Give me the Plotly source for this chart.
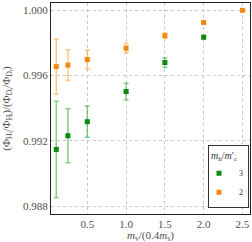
import plotly.graph_objects as go

x_orange = [0.1, 0.25, 0.5, 1.0, 1.5, 2.0, 2.5]
y_orange = [0.99655, 0.99664, 0.99698, 0.99768, 0.99845, 0.99925, 1.0000]
e_orange = [0.00169, 0.00095, 0.00057, 0.00030, 0.00016, 0.00008, 0.00004]

x_green = [0.1, 0.25, 0.5, 1.0, 1.5, 2.0]
y_green = [0.99147, 0.99231, 0.99317, 0.99502, 0.99680, 0.99835]
e_green = [0.00296, 0.00165, 0.00096, 0.00051, 0.00030, 0.00010]

x_ticks = [0.5, 1.0, 1.5, 2.0, 2.5]
y_ticks = [0.988, 0.992, 0.996, 1.000]

font = "Liberation Serif"
tcol = "#505050"

fig = go.Figure()
fig.add_trace(go.Scatter(
    x=x_green, y=y_green, mode="markers", name="3",
    marker=dict(symbol="square", size=5, color="#0a8a0a"),
    error_y=dict(type="data", array=e_green, color="rgba(60,170,60,0.6)", thickness=1.5, width=2.5),
))
fig.add_trace(go.Scatter(
    x=x_orange, y=y_orange, mode="markers", name="2",
    marker=dict(symbol="square", size=5, color="#f5890f"),
    error_y=dict(type="data", array=e_orange, color="rgba(250,170,70,0.65)", thickness=1.5, width=2.5),
))

axis_common = dict(
    showline=True, linecolor="#222", linewidth=1.2, mirror=True,
    showgrid=True, gridcolor="#c8c8c8", griddash="dot", gridwidth=1,
    zeroline=False, ticks="", tickfont=dict(family=font, size=11, color=tcol),
    automargin=False, ticklabeloverflow="allow",
)
fig.update_xaxes(
    range=[0.032, 2.597], tickvals=x_ticks, ticktext=[f"{v:.1f}" for v in x_ticks],
    **axis_common,
)
fig.update_yaxes(
    range=[0.98751, 1.00045], tickvals=y_ticks, ticktext=[f"{v:.3f}" for v in y_ticks],
    **axis_common,
)
fig.add_annotation(
    text="(Φ<sub>Hₛ</sub>/Φ<sub>Hₗ</sub>)/(Φ<sub>Dₛ</sub>/Φ<sub>Dₗ</sub>)",
    xref="paper", yref="paper", x=-0.225, y=0.5, xanchor="center", yanchor="middle",
    textangle=-90, showarrow=False, font=dict(family=font, size=11, color=tcol),
)
fig.add_annotation(
    text="<i>m</i><sub>v</sub>/(0.4<i>m</i><sub>s</sub>)",
    xref="paper", yref="paper", x=0.5, y=-0.105, xanchor="center", yanchor="middle",
    showarrow=False, font=dict(family=font, size=11, color=tcol),
)
fig.update_layout(
    width=252, height=242,
    margin=dict(l=51, r=2, t=3, b=28),
    plot_bgcolor="white", paper_bgcolor="white",
    font=dict(family=font, size=11, color=tcol),
    legend=dict(
        title=dict(text="<i>m</i><sub>h</sub>/<i>m</i>′<sub>c</sub>", font=dict(family=font, size=10, color="#333"), side="top"),
        x=0.995, y=0.03, xanchor="right", yanchor="bottom",
        bgcolor="white", bordercolor="#333", borderwidth=1,
        font=dict(family=font, size=8, color="#333"),
        itemwidth=30, tracegroupgap=0, indentation=-10,
    ),
)
fig.write_html("out.html", config={"displayModeBar": False},
               post_script="document.body.style.margin='0';document.body.style.overflow='hidden';")
